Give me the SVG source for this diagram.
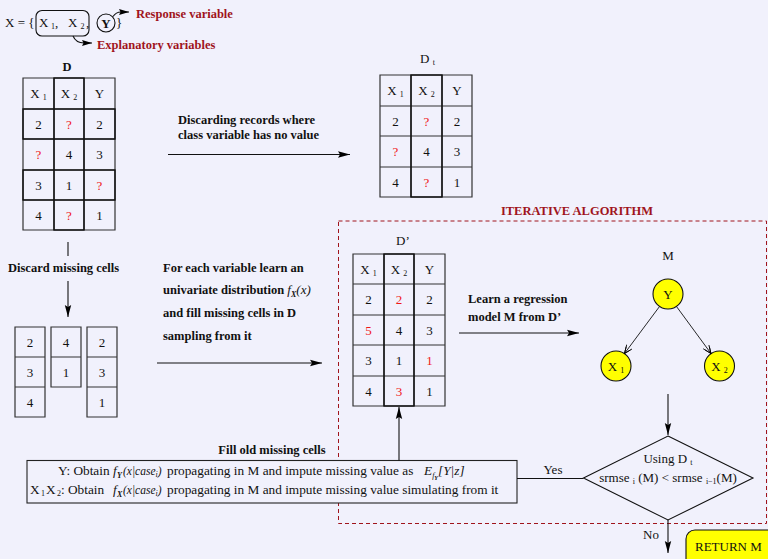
<svg xmlns="http://www.w3.org/2000/svg" width="768" height="559" viewBox="0 0 768 559">
<defs>
<marker id="ah" markerWidth="12" markerHeight="8" refX="12" refY="4" orient="auto" markerUnits="userSpaceOnUse">
<path d="M0,0.8 L12,4 L0,7.2 L2,4 Z" fill="#000"/>
</marker>
<marker id="ahs" markerWidth="10" markerHeight="7" refX="10" refY="3.5" orient="auto" markerUnits="userSpaceOnUse">
<path d="M0,0.5 L10,3.5 L0,6.5 L1.5,3.5 Z" fill="#000"/>
</marker>
<marker id="oa" markerWidth="9" markerHeight="8" refX="8.5" refY="4" orient="auto" markerUnits="userSpaceOnUse">
<path d="M0,0.5 L8.5,4 L0,7.5 M2,1.3 L8.5,4 L2,6.7" fill="none" stroke="#000" stroke-width="0.8"/>
</marker>
<style>
text{font-family:"Liberation Serif","Times New Roman",serif;fill:#111}
.v{font-size:13px;text-anchor:middle}
.r{fill:#f01818}
.b{font-weight:bold;font-size:12.5px}
.dr{fill:#a0141c;font-weight:bold;font-size:12.5px}
.g{fill:none;stroke:#333;stroke-width:1.2}
.gt{fill:none;stroke:#111;stroke-width:1.4}
.ln{fill:none;stroke:#111;stroke-width:1.1}
.t{font-size:13px}
.tb{font-size:13.3px}
.i{font-style:italic}
.sub{font-size:8px}
.node{fill:#ffff00;stroke:#111;stroke-width:1.1}
</style>
</defs>
<rect width="768" height="559" fill="#f1f1fc"/>

<g id="legend">
<text class="t" x="5" y="27">X = {</text>
<rect x="36" y="10.5" width="53" height="25.5" rx="6" class="ln"/>
<text class="t" x="39" y="27">X</text><text class="sub" x="51" y="29">1</text><text class="t" x="55" y="27">,</text>
<text class="t" x="68" y="27">X</text><text class="sub" x="80.5" y="29">2</text><text class="t" x="86" y="27">,</text>
<circle cx="106" cy="23" r="9" class="ln"/>
<text class="t" x="106" y="27.5" text-anchor="middle" font-weight="bold">Y</text>
<text class="t" x="116" y="27">}</text>
<path d="M113,16.5 Q116,12 121,12 L129,12" class="ln" marker-end="url(#ahs)"/>
<text class="dr" x="136" y="18">Response variable</text>
<path d="M73,36 Q76,43 84,43 L92,43" class="ln" marker-end="url(#ahs)"/>
<text class="dr" x="97" y="49">Explanatory variables</text>
</g>

<g id="tableD">
<text class="b" x="67" y="71" text-anchor="middle">D</text>
<path class="g" d="M23,78H115V230H23Z M54,78V230 M84,78V230 M23,109H115 M23,139H115 M23,170H115 M23,200H115"/>
<rect class="gt" x="54" y="78" width="30" height="152"/>
<rect class="gt" x="23" y="109" width="92" height="30"/>
<rect class="gt" x="23" y="170" width="92" height="30"/>
<text class="v" x="38.5" y="98">X <tspan class="sub" dy="2">1</tspan></text>
<text class="v" x="69" y="98">X <tspan class="sub" dy="2">2</tspan></text>
<text class="v" x="99.5" y="98">Y</text>
<text class="v" x="38.5" y="128.5">2</text><text class="v r" x="69" y="128.5">?</text><text class="v" x="99.5" y="128.5">2</text>
<text class="v r" x="38.5" y="159">?</text><text class="v" x="69" y="159">4</text><text class="v" x="99.5" y="159">3</text>
<text class="v" x="38.5" y="189.5">3</text><text class="v" x="69" y="189.5">1</text><text class="v r" x="99.5" y="189.5">?</text>
<text class="v" x="38.5" y="220">4</text><text class="v r" x="69" y="220">?</text><text class="v" x="99.5" y="220">1</text>
</g>

<g id="tableDt">
<text class="t" x="420" y="63">D <tspan class="sub" dy="2">t</tspan></text>
<path class="g" d="M380,75H472V197H380Z M411,75V197 M442,75V197 M380,106H472 M380,136H472 M380,167H472"/>
<rect class="gt" x="411" y="75" width="31" height="122"/>
<text class="v" x="395.5" y="95">X <tspan class="sub" dy="2">1</tspan></text>
<text class="v" x="426.5" y="95">X <tspan class="sub" dy="2">2</tspan></text>
<text class="v" x="457" y="95">Y</text>
<text class="v" x="395.5" y="125.5">2</text><text class="v r" x="426.5" y="125.5">?</text><text class="v" x="457" y="125.5">2</text>
<text class="v r" x="395.5" y="156">?</text><text class="v" x="426.5" y="156">4</text><text class="v" x="457" y="156">3</text>
<text class="v" x="395.5" y="186.5">4</text><text class="v r" x="426.5" y="186.5">?</text><text class="v" x="457" y="186.5">1</text>
</g>

<g id="columns">
<path class="g" d="M15,327H45V417H15Z M15,357H45 M15,387H45"/>
<path class="g" d="M51,327H81V387H51Z M51,357H81"/>
<path class="g" d="M87,327H117V417H87Z M87,357H117 M87,387H117"/>
<text class="v" x="30" y="346.5">2</text><text class="v" x="30" y="376.5">3</text><text class="v" x="30" y="406.5">4</text>
<text class="v" x="66" y="346.5">4</text><text class="v" x="66" y="376.5">1</text>
<text class="v" x="102" y="346.5">2</text><text class="v" x="102" y="376.5">3</text><text class="v" x="102" y="406.5">1</text>
</g>

<g id="tableDp">
<text class="t" x="396" y="245">D’</text>
<path class="g" d="M353,254H445V406H353Z M384,254V406 M414,254V406 M353,284H445 M353,315H445 M353,345H445 M353,376H445"/>
<rect class="gt" x="384" y="254" width="30" height="152"/>
<text class="v" x="368.5" y="273.5">X <tspan class="sub" dy="2">1</tspan></text>
<text class="v" x="399" y="273.5">X <tspan class="sub" dy="2">2</tspan></text>
<text class="v" x="429.5" y="273.5">Y</text>
<text class="v" x="368.5" y="304">2</text><text class="v r" x="399" y="304">2</text><text class="v" x="429.5" y="304">2</text>
<text class="v r" x="368.5" y="334.5">5</text><text class="v" x="399" y="334.5">4</text><text class="v" x="429.5" y="334.5">3</text>
<text class="v" x="368.5" y="365">3</text><text class="v" x="399" y="365">1</text><text class="v r" x="429.5" y="365">1</text>
<text class="v" x="368.5" y="395.5">4</text><text class="v r" x="399" y="395.5">3</text><text class="v" x="429.5" y="395.5">1</text>
</g>

<g id="iterative">
<rect x="338.5" y="221" width="428" height="302.5" fill="none" stroke="#a0141c" stroke-width="1" stroke-dasharray="4,3"/>
<text class="dr" x="577" y="215" text-anchor="middle">ITERATIVE ALGORITHM</text>
</g>

<g id="modelM">
<text class="t" x="668" y="260" text-anchor="middle">M</text>
<circle class="node" cx="668" cy="294" r="15"/>
<text class="v" x="668" y="298.5">Y</text>
<circle class="node" cx="616" cy="366" r="15"/>
<text class="v" x="616" y="370.5">X <tspan class="sub" dy="2">1</tspan></text>
<circle class="node" cx="719.5" cy="366" r="15"/>
<text class="v" x="719.5" y="370.5">X <tspan class="sub" dy="2">2</tspan></text>
</g>

<g id="decision">
<path d="M668,436 L753,478 L668,520 L583.5,478 Z" class="ln" fill="none"/>
<text class="t" x="668" y="463" text-anchor="middle">Using  D <tspan class="sub" dy="2">t</tspan></text>
<text class="t" x="668" y="482" text-anchor="middle">srmse <tspan class="sub" dy="2">i</tspan><tspan dy="-2"> (M) &lt; srmse </tspan><tspan class="sub" dy="2">i−1</tspan><tspan dy="-2">(M)</tspan></text>
</g>

<g id="returnM">
<rect x="686" y="530" width="100" height="50" rx="9" fill="#ffff00" stroke="#111" stroke-width="1.1"/>
<text class="t" x="695" y="551">RETURN M</text>
</g>

<g id="fillbox">
<text class="b" x="272" y="454" text-anchor="middle">Fill old missing cells</text>
<rect x="27" y="460.5" width="490" height="42.5" fill="#f1f1fc" stroke="#222" stroke-width="1.1"/>
<text class="tb" x="58" y="475">Y:  Obtain</text>
<text class="tb i" x="113" y="475">f</text><text class="sub i" x="117" y="478" font-weight="bold">Y</text>
<text class="i" font-size="11.5" x="123" y="475">(x|case<tspan class="sub" dy="2">i</tspan><tspan dy="-2">)</tspan></text>
<text class="tb" x="167" y="475">propagating in M and impute missing value as</text>
<text class="tb i" x="424" y="475">E<tspan class="sub" dy="3">f</tspan><tspan font-size="6" dy="2" font-weight="bold">Y</tspan><tspan dy="-5">[Y|z]</tspan></text>
<text class="tb" x="30" y="494">X</text><text class="sub" x="41" y="496">1</text><text class="tb" x="46" y="494">X</text><text class="sub" x="57" y="496">2</text><text class="tb" x="61" y="494">:  Obtain</text>
<text class="tb i" x="113" y="494">f</text><text class="sub i" x="117" y="497" font-weight="bold">X</text>
<text class="i" font-size="11.5" x="123" y="494">(x|case<tspan class="sub" dy="2">i</tspan><tspan dy="-2">)</tspan></text>
<text class="tb" x="167" y="494">propagating in M and impute missing value simulating from it</text>
</g>

<g id="labels">
<text class="b" x="178" y="124">Discarding records where</text>
<text class="b" x="178" y="138.5">class variable has no value</text>
<text class="b" x="8" y="272">Discard missing cells</text>
<text class="b" x="163" y="272">For each variable learn an</text>
<text class="b" x="163" y="294">univariate distribution <tspan class="i" font-weight="normal" font-size="13px">f<tspan class="sub" dy="3" font-weight="bold">X</tspan><tspan dy="-3">(x)</tspan></tspan></text>
<text class="b" x="163" y="317">and fill missing cells in D</text>
<text class="b" x="163" y="340">sampling from it</text>
<text class="b" x="468" y="303">Learn a regression</text>
<text class="b" x="468" y="321">model M from D’</text>
<text class="t" x="553" y="474" text-anchor="middle">Yes</text>
<text class="t" x="651" y="539" text-anchor="middle">No</text>
</g>

<g id="connectors">
<line x1="168" y1="154.5" x2="350" y2="154.5" class="ln" marker-end="url(#ah)"/>
<line x1="68" y1="242" x2="68" y2="256" class="ln"/>
<line x1="68" y1="281" x2="68" y2="317" class="ln" marker-end="url(#ah)"/>
<line x1="157" y1="363" x2="322" y2="363" class="ln" marker-end="url(#ah)"/>
<line x1="459" y1="333" x2="579" y2="333" class="ln" marker-end="url(#ah)"/>
<line x1="659.5" y1="306.5" x2="624.5" y2="353.5" stroke="#111" stroke-width="0.9" marker-end="url(#oa)"/>
<line x1="676.5" y1="306.5" x2="711" y2="353.5" stroke="#111" stroke-width="0.9" marker-end="url(#oa)"/>
<line x1="668" y1="394" x2="668" y2="435" class="ln" marker-end="url(#ah)"/>
<line x1="668" y1="520" x2="668" y2="553" class="ln" marker-end="url(#ah)"/>
<line x1="583.5" y1="478.5" x2="517" y2="478.5" class="ln"/>
<line x1="399" y1="460.5" x2="399" y2="407" class="ln" marker-end="url(#ah)"/>
</g>
</svg>
